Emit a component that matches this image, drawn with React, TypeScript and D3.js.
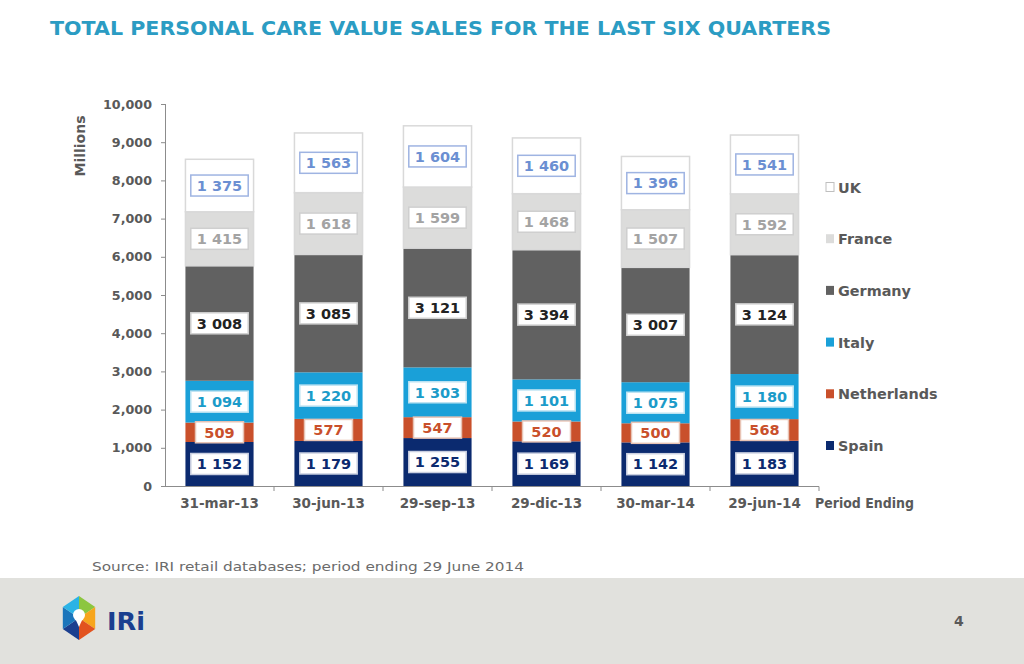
import React from "react";
import * as d3 from "d3";

const periods = ["31-mar-13", "30-jun-13", "29-sep-13", "29-dic-13", "30-mar-14", "29-jun-14"];
const seriesNames = ["Spain", "Netherlands", "Italy", "Germany", "France", "UK"];
const spain = [1152, 1179, 1255, 1169, 1142, 1183];
const netherlands = [509, 577, 547, 520, 500, 568];
const italy = [1094, 1220, 1303, 1101, 1075, 1180];
const germany = [3008, 3085, 3121, 3394, 3007, 3124];
const france = [1415, 1618, 1599, 1468, 1507, 1592];
const uk = [1375, 1563, 1604, 1460, 1396, 1541];
const yTicks = [0, 1000, 2000, 3000, 4000, 5000, 6000, 7000, 8000, 9000, 10000];

const fills = ["#0b2a6f", "#c9502b", "#1aa0d8", "#616161", "#dcdcdb", "#ffffff"];
const labelColors = ["#0b2a6f", "#c9502b", "#1b9bc9", "#222222", "#a3a3a3", "#6b8fd2"];
const labelBorders = ["#c9cfe0", "#e8c3b4", "#bde3f2", "#d0d0d0", "#cfcfcf", "#9fb4e2"];

const FONT = "'DejaVu Sans', Verdana, sans-serif";

export default function App() {
  const values = [spain, netherlands, italy, germany, france, uk];
  const data = periods.map((p, i) => {
    const row: any = { period: p };
    seriesNames.forEach((s, k) => (row[s] = values[k][i]));
    return row;
  });
  const stack = d3.stack<any>().keys(seriesNames)(data);

  const x = d3.scaleBand().domain(periods).range([165, 819]).paddingInner(0.375).paddingOuter(0.1875);
  const y = d3.scaleLinear().domain([0, 10000]).range([486, 104]);
  const fmt = (v: number) => d3.format(",")(v).replace(/,/g, " ");
  const tickFmt = d3.format(",");

  const hexR = 22;
  const hcx = 79, hcy = 618;
  const hexPts = d3.range(6).map((k) => {
    const a = (Math.PI / 3) * k - Math.PI / 2;
    return [hcx + hexR * 0.85 * Math.cos(a), hcy + hexR * Math.sin(a)];
  });
  const hexColors = ["#8cc63f", "#f7a51c", "#e2531f", "#1b3f8f", "#1b75bb", "#2bb3e6"];
  const LFS = 14.5;

  return (
    <div style={{ position: "absolute", left: 0, top: 0 }}>
      <svg width={1024} height={664} style={{ display: "block", background: "#ffffff" }}>
        <text x={50} y={35} fill="#2b9cc3" fontFamily={FONT} fontWeight="bold" fontSize={19.5}
          textLength={781} lengthAdjust="spacingAndGlyphs">
          TOTAL PERSONAL CARE VALUE SALES FOR THE LAST SIX QUARTERS
        </text>

        {/* y axis */}
        <line x1={165.5} x2={165.5} y1={104} y2={486} stroke="#8c8c8c" />
        {yTicks.map((t) => (
          <g key={t}>
            <line x1={161} x2={165.5} y1={y(t) + 0.5} y2={y(t) + 0.5} stroke="#8c8c8c" />
            <text x={152} y={y(t) + 4.5} textAnchor="end" fontFamily={FONT} fontWeight="bold"
              fontSize={12.7} fill="#595959">{tickFmt(t)}</text>
          </g>
        ))}
        <text transform="translate(85,146) rotate(-90)" textAnchor="middle" fontFamily={FONT}
          fontWeight="bold" fontSize={14} fill="#595959">Millions</text>

        {/* x axis */}
        <line x1={165} x2={819} y1={486.5} y2={486.5} stroke="#8c8c8c" />
        {periods.map((p, i) => {
          const edge = 165 + (i + 1) * (654 / 6);
          return <line key={p} x1={edge} x2={edge} y1={486.5} y2={491} stroke="#8c8c8c" />;
        })}
        {periods.map((p) => (
          <text key={p} x={x(p)! + x.bandwidth() / 2} y={508} textAnchor="middle" fontFamily={FONT}
            fontWeight="bold" fontSize={13.5} fill="#595959">{p}</text>
        ))}
        <text x={815} y={508} fontFamily={FONT} fontWeight="bold" fontSize={13.5} fill="#595959"
          textLength={99} lengthAdjust="spacingAndGlyphs">Period Ending</text>

        {/* bars */}
        {stack.map((layer, k) => (
          <g key={layer.key}>
            {layer.map((d, i) => (
              <rect key={i} x={x(periods[i])!} width={x.bandwidth()} y={y(d[1])} height={y(d[0]) - y(d[1])}
                fill={fills[k]} stroke={k >= 4 ? "#d9d9d9" : "none"} strokeWidth={k >= 4 ? 1.5 : 0} />
            ))}
          </g>
        ))}
        {stack.map((layer, k) => (
          <g key={"l" + layer.key}>
            {layer.map((d, i) => {
              const label = fmt(values[k][i]);
              const tw = label.split("").reduce((s, c) => s + (c === " " ? 0.348 : 0.696), 0) * LFS;
              const w = Math.max(48, tw + 12);
              const cx = x(periods[i])! + x.bandwidth() / 2;
              const cy = (y(d[0]) + y(d[1])) / 2;
              return (
                <g key={i}>
                  <rect x={cx - w / 2} y={cy - 10.5} width={w} height={21} fill="#ffffff"
                    stroke={labelBorders[k]} strokeWidth={1.5} />
                  <text x={cx} y={cy + 5.3} textAnchor="middle" fontFamily={FONT} fontWeight="bold"
                    fontSize={LFS} fill={labelColors[k]}>{label}</text>
                </g>
              );
            })}
          </g>
        ))}

        {/* legend */}
        {seriesNames.map((s, k) => {
          const ly = 445.5 - k * 51.7;
          return (
            <g key={s}>
              <rect x={826} y={ly - 4.5} width={8} height={9} fill={fills[k]}
                stroke={k === 5 ? "#bfbfbf" : "none"} />
              <text x={838} y={ly + 5.5} fontFamily={FONT} fontWeight="bold" fontSize={14.4} fill="#595959">{s}</text>
            </g>
          );
        })}

        {/* source */}
        <text x={92} y={571} fontFamily={FONT} fontSize={13} fill="#6b6b6b" textLength={432}
          lengthAdjust="spacingAndGlyphs">Source: IRI retail databases; period ending 29 June 2014</text>

        {/* footer */}
        <rect x={0} y={578} width={1024} height={86} fill="#e1e1dd" />
        {hexPts.map((p, k) => {
          const q = hexPts[(k + 1) % 6];
          return <path key={k} d={`M${hcx},${hcy}L${p[0]},${p[1]}L${q[0]},${q[1]}Z`} fill={hexColors[k]} />;
        })}
        <circle cx={hcx} cy={hcy - 3} r={6} fill="#ffffff" />
        <path d={`M${hcx - 4},${hcy}L${hcx},${hcy + 9}L${hcx + 4},${hcy}Z`} fill="#ffffff" />
        <text x={107} y={630} fontFamily={FONT} fontWeight="bold" fontSize={25} fill="#1b3f8f"
          textLength={38} lengthAdjust="spacingAndGlyphs">IRi</text>
        <text x={954} y={626} fontFamily={FONT} fontWeight="bold" fontSize={14} fill="#595959">4</text>
      </svg>
    </div>
  );
}
